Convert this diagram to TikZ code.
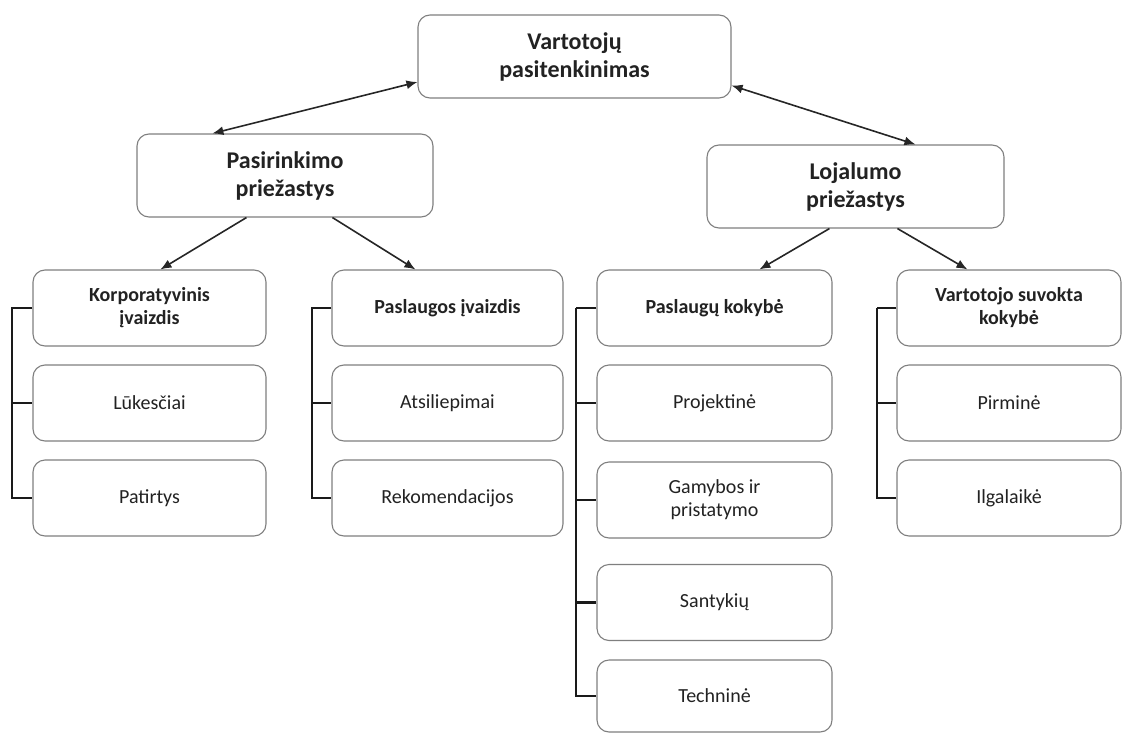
\documentclass[tikz,border=0pt]{standalone}
\usepackage{fontspec}
\setmainfont{Carlito}
\usetikzlibrary{arrows.meta,calc}
\definecolor{boxline}{HTML}{7F7F7F}
\definecolor{txt}{HTML}{222222}
\definecolor{arrcol}{HTML}{262626}
\definecolor{brkcol}{HTML}{1A1A1A}
\begin{document}
\begin{tikzpicture}[x=1pt,y=-1pt,
  box/.style={draw=boxline,line width=1.1pt,rounded corners=12pt,fill=white,align=center,text=txt,inner sep=2pt},
  bigbox/.style={box,minimum height=83pt,font=\fontsize{24}{28}\selectfont\bfseries},
  hbox/.style={box,minimum width=#1,minimum height=76pt,font=\fontsize{20}{23}\selectfont\bfseries},
  sbox/.style={box,minimum width=#1,minimum height=76pt,font=\fontsize{20}{23}\selectfont},
  arr/.style={draw=arrcol,line width=1.6pt},
  >={Latex[length=11pt,width=9pt]},
  brkthick/.style={draw=brkcol,line width=2.8pt},
  brkthin/.style={draw=brkcol,line width=1.2pt}]
\useasboundingbox (0,0) rectangle (1123,733);

% top levels
\node[bigbox,minimum width=313pt] (top) at (574.5,56.5) {Vartotojų\\pasitenkinimas};
\node[bigbox,minimum width=296pt] (pas) at (285,175.5) {Pasirinkimo\\priežastys};
\node[bigbox,minimum width=297pt] (loj) at (855.5,186.5) {Lojalumo\\priežastys};

% column 1
\node[hbox=233pt] (korp) at (149.5,308) {Korporatyvinis\\įvaizdis};
\node[sbox=233pt] (luk) at (149.5,403) {Lūkesčiai};
\node[sbox=233pt] (pat) at (149.5,498) {Patirtys};

% column 2
\node[hbox=231pt] (pasl) at (447.5,308) {Paslaugos įvaizdis};
\node[sbox=231pt] (ats) at (447.5,403) {Atsiliepimai};
\node[sbox=231pt] (rek) at (447.5,498) {Rekomendacijos};

% column 3
\node[hbox=235pt] (kok) at (714.5,308) {Paslaugų kokybė};
\node[sbox=235pt] (proj) at (714.5,403) {Projektinė};
\node[sbox=235pt] (gam) at (714.5,500) {Gamybos ir\\pristatymo};
\node[sbox=235pt] (sant) at (714.5,602.5) {Santykių};
\node[sbox=235pt,minimum height=72pt] (tech) at (714.5,696) {Techninė};

% column 4
\node[hbox=224pt] (vart) at (1009,308) {Vartotojo suvokta\\kokybė};
\node[sbox=224pt] (pirm) at (1009,403) {Pirminė};
\node[sbox=224pt] (ilg) at (1009,498) {Ilgalaikė};

% arrows
\draw[arr,<->] ([yshift=-25.5pt]top.west) -- ([xshift=76pt]pas.north west);
\draw[arr,<->] ([yshift=-29pt]top.east) -- ([xshift=209pt]loj.north west);
\draw[arr,->] ([xshift=110pt]pas.south west) -- ([xshift=128pt]korp.north west);
\draw[arr,->] ([xshift=196pt]pas.south west) -- ([xshift=84pt]pasl.north west);
\draw[arr,->] ([xshift=123pt]loj.south west) -- ([xshift=163pt]kok.north west);
\draw[arr,->] ([xshift=191pt]loj.south west) -- ([xshift=71pt]vart.north west);

% brackets
\coordinate (b1) at (12,0);
\coordinate (b2) at (312,0);
\coordinate (b3) at (576,0);
\coordinate (b4) at (877,0);

\draw[brkthick] (korp.west) -- (korp.west -| b1) -- (pat.west -| b1) -- (pat.west);
\draw[brkthick] (luk.west -| b1) -- (luk.west);

\draw[brkthin] (pasl.west) -- (pasl.west -| b2) -- (rek.west -| b2) -- (rek.west);
\draw[brkthick] (ats.west -| b2) -- (ats.west);

\draw[brkthin] (kok.west) -- (kok.west -| b3);
\draw[brkthick] (kok.west -| b3) -- (tech.west -| b3) -- (tech.west);
\draw[brkthick] (proj.west -| b3) -- (proj.west);
\draw[brkthin] (gam.west -| b3) -- (gam.west);
\draw[brkthick] (sant.west -| b3) -- (sant.west);

\draw[brkthin] (vart.west) -- (vart.west -| b4);
\draw[brkthick] (vart.west -| b4) -- (ilg.west -| b4) -- (ilg.west);
\draw[brkthick] (pirm.west -| b4) -- (pirm.west);
\end{tikzpicture}
\end{document}
